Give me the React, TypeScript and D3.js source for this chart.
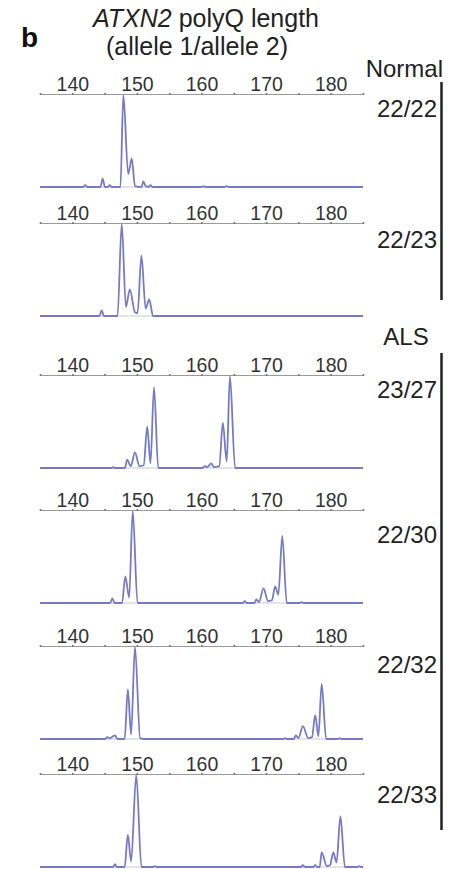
import { useEffect, useRef } from 'react'
import * as d3 from 'd3'

type Pt = [number, number]

// size axis (polyQ repeat size in bp units)
const tickMarks = [135, 140, 145, 150, 155, 160, 165, 170, 175, 180, 185]
const tickLabels = [140, 150, 160, 170, 180]

const genotypes = ['22/22', '22/23', '23/27', '22/30', '22/32', '22/33']
const groupNames = ['Normal', 'ALS']

// electropherogram traces: [size, relative signal]
const trace2222: Pt[] = [
  [135, 0], [141.7, 0], [142.0, 0.02], [142.3, 0],
  [144.35, 0], [144.7, 0.09], [145.05, 0], [145.5, 0], [145.8, 0.02], [146.1, 0],
  [147.45, 0], [147.9, 1.0], [148.65, 0.14], [149.2, 0.31], [149.7, 0.01],
  [150.7, 0], [151.0, 0.06], [151.35, 0.01], [151.8, 0], [152.1, 0.02], [152.4, 0],
  [160.0, 0], [160.3, 0.01], [160.6, 0], [163.6, 0], [163.9, 0.01], [164.2, 0],
  [185, 0]
]
const trace2223: Pt[] = [
  [135, 0], [144.2, 0], [144.55, 0.06], [144.9, 0],
  [147.0, 0], [147.65, 1.0], [148.3, 0.1], [148.9, 0.29], [149.7, 0.04], [150.1, 0.03],
  [150.7, 0.66], [151.35, 0.08], [151.9, 0.18], [152.5, 0],
  [185, 0]
]
const trace2327: Pt[] = [
  [135, 0], [146.1, 0], [146.35, 0.01], [146.6, 0],
  [148.15, 0], [148.5, 0.09], [149.05, 0.02], [149.7, 0.17], [150.4, 0.02], [151.05, 0.03],
  [151.6, 0.45], [152.1, 0.05], [152.65, 0.88], [153.3, 0],
  [160.2, 0], [160.5, 0.02], [160.9, 0.01], [161.5, 0.05], [161.9, 0.01], [162.75, 0.02],
  [163.3, 0.49], [163.9, 0.07], [164.4, 1.0], [165.2, 0],
  [185, 0]
]
const trace2230: Pt[] = [
  [135, 0], [145.85, 0], [146.2, 0.05], [146.55, 0],
  [147.7, 0], [148.2, 0.29], [148.8, 0.06], [149.35, 1.0], [150.1, 0],
  [166.4, 0], [166.7, 0.02], [167.0, 0],
  [168.2, 0], [168.5, 0.04], [168.9, 0.01], [169.6, 0.16], [170.3, 0.02], [170.9, 0.03],
  [171.4, 0.18], [171.9, 0.09], [172.5, 0.73], [173.2, 0],
  [175.2, 0], [175.5, 0.01], [175.8, 0], [185, 0]
]
const trace2232: Pt[] = [
  [135, 0], [145.1, 0], [145.4, 0.02], [145.8, 0.01], [146.6, 0.04], [147.0, 0],
  [148.1, 0], [148.6, 0.54], [149.1, 0.05], [149.7, 1.0], [150.5, 0.01], [151.2, 0],
  [172.6, 0], [172.9, 0.01], [173.2, 0],
  [174.3, 0], [174.6, 0.04], [175.0, 0.01], [175.7, 0.14], [176.5, 0.01], [177.1, 0.02],
  [177.6, 0.26], [178.1, 0.03], [178.6, 0.6], [179.3, 0],
  [181.1, 0], [181.4, 0.01], [181.7, 0], [185, 0]
]
const trace2233: Pt[] = [
  [135, 0], [146.3, 0], [146.6, 0.03], [146.9, 0],
  [148.1, 0], [148.6, 0.35], [149.1, 0.06], [149.9, 1.0], [150.7, 0],
  [152.5, 0], [152.8, 0.01], [153.1, 0],
  [175.4, 0], [175.7, 0.02], [176.0, 0], [177.3, 0], [177.6, 0.02], [177.9, 0],
  [178.3, 0], [178.6, 0.16], [179.4, 0.01], [179.9, 0.02], [180.4, 0.16], [180.9, 0.05],
  [181.5, 0.55], [182.2, 0],
  [184.1, 0], [184.4, 0.01], [184.7, 0], [185, 0]
]
const traces = [trace2222, trace2223, trace2327, trace2230, trace2232, trace2233]

export default function App() {
  const canvas = useRef<HTMLDivElement>(null)

  useEffect(() => {
    showCanvas()
  }, [])

  const showCanvas = () => {
    const width = 455
    const height = 869
    const font = '"Liberation Sans", Arial, Helvetica, sans-serif'

    // layout
    const axisY = [94, 223, 375, 510, 646, 774]
    const labelY = [117, 248, 398, 543, 673, 803]
    const panelH = 93
    const groupBars = [[82, 300], [353, 830]]
    const groupLabelPos = [[443, 77, 'end'], [406, 345, 'middle']]

    d3.select(canvas.current).selectAll('*').remove()

    const svg = d3.select(canvas.current)
      .append('svg')
      .attr('width', width)
      .attr('height', height)
      .style('position', 'absolute')
      .style('left', '0px')
      .style('top', '0px')
      .style('background', '#fff')
      .style('font-family', font)

    const xScale = d3.scaleLinear()
      .domain([135, 185])
      .range([40, 363])

    // title
    const title = svg.append('text')
      .attr('x', 206)
      .attr('y', 27)
      .attr('text-anchor', 'middle')
      .attr('font-size', 25)
      .attr('fill', '#222')
    title.append('tspan').attr('font-style', 'italic').text('ATXN2')
    title.append('tspan').text(' polyQ length')

    svg.append('text')
      .attr('x', 197)
      .attr('y', 55)
      .attr('text-anchor', 'middle')
      .attr('font-size', 25)
      .attr('fill', '#222')
      .text('(allele 1/allele 2)')

    svg.append('text')
      .attr('x', 21)
      .attr('y', 47)
      .attr('font-size', 28)
      .attr('font-weight', 'bold')
      .attr('fill', '#111')
      .text('b')

    traces.forEach((trace, i) => {
      const top = axisY[i]
      const yScale = d3.scaleLinear()
        .domain([0, 1])
        .range([top + panelH, top + 1])

      const xAxis = d3.axisTop(xScale)
        .tickValues(tickMarks)
        .tickSizeInner(2)
        .tickSizeOuter(0)
        .tickPadding(1)
        .tickFormat((d: any) => tickLabels.includes(+d) ? String(d) : '')

      const g = svg.append('g')
        .attr('transform', `translate(0, ${top})`)
        .call(xAxis)
      g.select('.domain').attr('stroke', '#9a9a9a').attr('stroke-width', 1)
      g.selectAll('.tick line')
        .attr('stroke', '#777')
        .attr('stroke-width', 1.6)
        .attr('y1', -1)
        .attr('y2', 1)
      g.selectAll('.tick text')
        .attr('font-size', 19.5)
        .attr('font-family', font)
        .attr('fill', '#333')

      // faint base line under the trace
      svg.append('line')
        .attr('x1', xScale(135))
        .attr('x2', xScale(185))
        .attr('y1', yScale(0))
        .attr('y2', yScale(0))
        .attr('stroke', '#c9c9c9')
        .attr('stroke-width', 1)

      const line = d3.line<Pt>()
        .x(d => xScale(d[0]))
        .y(d => yScale(d[1]))
        .curve(d3.curveMonotoneX)

      svg.append('path')
        .datum(trace)
        .attr('d', line)
        .attr('fill', 'none')
        .attr('stroke', '#767ac6')
        .attr('stroke-width', 1.8)
        .attr('stroke-linejoin', 'round')

      svg.append('text')
        .attr('x', 437)
        .attr('y', labelY[i])
        .attr('text-anchor', 'end')
        .attr('font-size', 24)
        .attr('fill', '#222')
        .text(genotypes[i])
    })

    // group brackets
    groupNames.forEach((name, i) => {
      const [x, y, anchor] = groupLabelPos[i]
      svg.append('text')
        .attr('x', x)
        .attr('y', y)
        .attr('text-anchor', anchor)
        .attr('font-size', 24)
        .attr('fill', '#222')
        .text(name)
      svg.append('line')
        .attr('x1', 441.5)
        .attr('x2', 441.5)
        .attr('y1', groupBars[i][0])
        .attr('y2', groupBars[i][1])
        .attr('stroke', '#222')
        .attr('stroke-width', 2.5)
    })
  }

  return (
    <div className="sandbox">
      <div className="canvas" ref={canvas}></div>
    </div>
  )
}
